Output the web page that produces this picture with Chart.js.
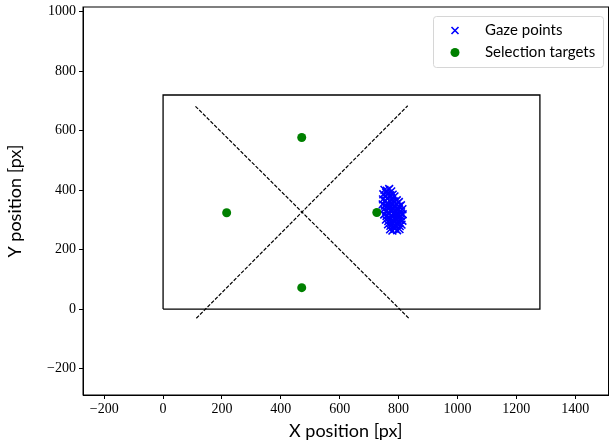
<!DOCTYPE html>
<html lang="en">
  <head>
    <meta charset="UTF-8" />
    <title>Gaze points</title>
    <script src="https://cdn.jsdelivr.net/npm/chart.js@4.4.1/dist/chart.umd.min.js"></script>
    <style>
      html, body { margin: 0; padding: 0; background: #fff; }
      #wrap { width: 610px; height: 446px; position: relative; }
    </style>
  </head>
  <body>
    <div id="wrap"><canvas id="myChart"></canvas></div>

    <script>
      // screen rectangle (1280 x 720) and the two diagonals
      const screenX = [0, 1280, 1280, 0, 0];
      const screenY = [0, 0, 720, 720, 0];
      const diag1X = [110, 835];
      const diag1Y = [682, -31];
      const diag2X = [113, 831];
      const diag2Y = [-31, 684];

      // selection targets
      const targetX = [471, 216, 471, 726];
      const targetY = [577, 324, 72, 325];

      // gaze points
      const gazeX = [752, 760, 768, 775, 758, 748, 756, 765, 772, 780, 786,
        747, 754, 762, 770, 778, 786, 794, 801,
        746, 753, 761, 769, 777, 785, 793, 801, 808,
        750, 758, 766, 774, 782, 790, 798, 806, 813,
        751, 759, 767, 775, 783, 791, 799, 807, 814,
        757, 765, 773, 781, 789, 797, 805, 813,
        764, 772, 780, 788, 796, 804, 810,
        771, 779, 787, 795, 803,
        770, 790, 780, 795, 760, 800, 785, 775, 766, 808, 792, 778];
      const gazeY = [401, 398, 404, 396, 392, 386, 381, 388, 383, 385, 379,
        369, 365, 371, 364, 368, 362, 366, 360,
        352, 348, 355, 346, 351, 347, 353, 345, 349,
        335, 330, 337, 331, 336, 329, 334, 330, 336,
        318, 313, 320, 314, 319, 312, 317, 313, 319,
        301, 296, 303, 297, 302, 295, 300, 297,
        285, 280, 287, 281, 286, 279, 284,
        268, 264, 270, 265, 269,
        340, 320, 310, 340, 345, 290, 275, 358, 325, 322, 305, 292];

      const xTicks = [-200, 0, 200, 400, 600, 800, 1000, 1200, 1400];
      const yTicks = [-200, 0, 200, 400, 600, 800, 1000];

      const pts = (xs, ys) => xs.map((x, i) => ({ x: x, y: ys[i] }));
      const minus = (v) => String(v).replace("-", "\u2212");
      const noPad = (s) => { s.paddingTop = 0; s.paddingBottom = 0; s.paddingLeft = 0; s.paddingRight = 0; };

      const frame = {
        id: "frame",
        afterDatasetsDraw(chart) {
          const a = chart.chartArea, c = chart.ctx;
          c.save();
          c.strokeStyle = "#000";
          c.lineWidth = 1;
          c.strokeRect(a.left, a.top, a.right - a.left, a.bottom - a.top);
          c.restore();
        },
      };

      const legendBox = {
        id: "legendBox",
        afterDraw(chart) {
          const c = chart.ctx;
          const x0 = 433, y0 = 16, w = 170, h = 51, r = 3;
          c.save();
          c.fillStyle = "rgba(255,255,255,0.8)";
          c.strokeStyle = "#d6d6d6";
          c.lineWidth = 1;
          c.beginPath();
          c.roundRect(x0 + 0.5, y0 + 0.5, w, h, r);
          c.fill();
          c.stroke();

          // x marker
          c.strokeStyle = "#0000ff";
          c.lineWidth = 1.6;
          c.beginPath();
          c.moveTo(451.5, 27); c.lineTo(458.5, 34);
          c.moveTo(458.5, 27); c.lineTo(451.5, 34);
          c.stroke();
          // dot marker
          c.fillStyle = "#008000";
          c.beginPath();
          c.arc(455, 52.5, 4.5, 0, Math.PI * 2);
          c.fill();

          c.fillStyle = "#000";
          c.font = "15px Lato";
          c.textBaseline = "middle";
          c.fillText("Gaze points", 485, 30.5);
          c.fillText("Selection targets", 485, 52.5);
          c.restore();
        },
      };

      const tickFont = { family: "'Liberation Serif', serif", size: 14 };
      const titleFont = { family: "Lato, sans-serif", size: 18 };

      new Chart(document.getElementById("myChart"), {
        type: "scatter",
        data: {
          datasets: [
            {
              label: "Selection targets",
              data: pts(targetX, targetY),
              backgroundColor: "#008000",
              borderColor: "#008000",
              pointRadius: 4.5,
              pointBorderWidth: 0,
              order: 0,
            },
            {
              label: "Gaze points",
              data: pts(gazeX, gazeY),
              pointStyle: "crossRot",
              borderColor: "#0000ff",
              backgroundColor: "#0000ff",
              pointRadius: 5.5,
              pointBorderWidth: 1.6,
              order: 1,
            },
            {
              label: "screen",
              data: pts(screenX, screenY),
              showLine: true,
              borderColor: "#000",
              borderWidth: 1.3,
              pointRadius: 0,
              order: 2,
            },
            {
              label: "diag1",
              data: pts(diag1X, diag1Y),
              showLine: true,
              borderColor: "#000",
              borderWidth: 1.2,
              borderDash: [3.7, 1.6],
              pointRadius: 0,
              order: 2,
            },
            {
              label: "diag2",
              data: pts(diag2X, diag2Y),
              showLine: true,
              borderColor: "#000",
              borderWidth: 1.2,
              borderDash: [3.7, 1.6],
              pointRadius: 0,
              order: 2,
            },
          ],
        },
        options: {
          responsive: true,
          maintainAspectRatio: false,
          animation: false,
          layout: { autoPadding: false, padding: { top: 7, right: 1.5, left: 0, bottom: 0 } },
          plugins: {
            legend: { display: false },
            tooltip: { enabled: false },
          },
          scales: {
            x: {
              type: "linear",
              min: -272,
              max: 1513,
              afterBuildTicks: (s) => { s.ticks = xTicks.map((v) => ({ value: v })); },
              afterFit: (s) => { s.height = 51; noPad(s); },
              grid: { drawOnChartArea: false, color: "#000", tickLength: 4 },
              border: { color: "#000" },
              ticks: { color: "#000", font: tickFont, padding: 2, maxRotation: 0, callback: minus },
              title: { display: true, text: "X position [px]", color: "#000", font: titleFont, padding: { top: 1 } },
            },
            y: {
              type: "linear",
              min: -289,
              max: 1016,
              afterBuildTicks: (s) => { s.ticks = yTicks.map((v) => ({ value: v })); },
              afterFit: (s) => { s.width = 83; noPad(s); },
              grid: { drawOnChartArea: false, color: "#000", tickLength: 4 },
              border: { color: "#000" },
              ticks: { color: "#000", font: tickFont, padding: 3, callback: minus },
              title: { display: true, text: "Y position [px]", color: "#000", font: titleFont, padding: { bottom: 4 } },
            },
          },
        },
        plugins: [frame, legendBox],
      });
    </script>
  </body>
</html>
